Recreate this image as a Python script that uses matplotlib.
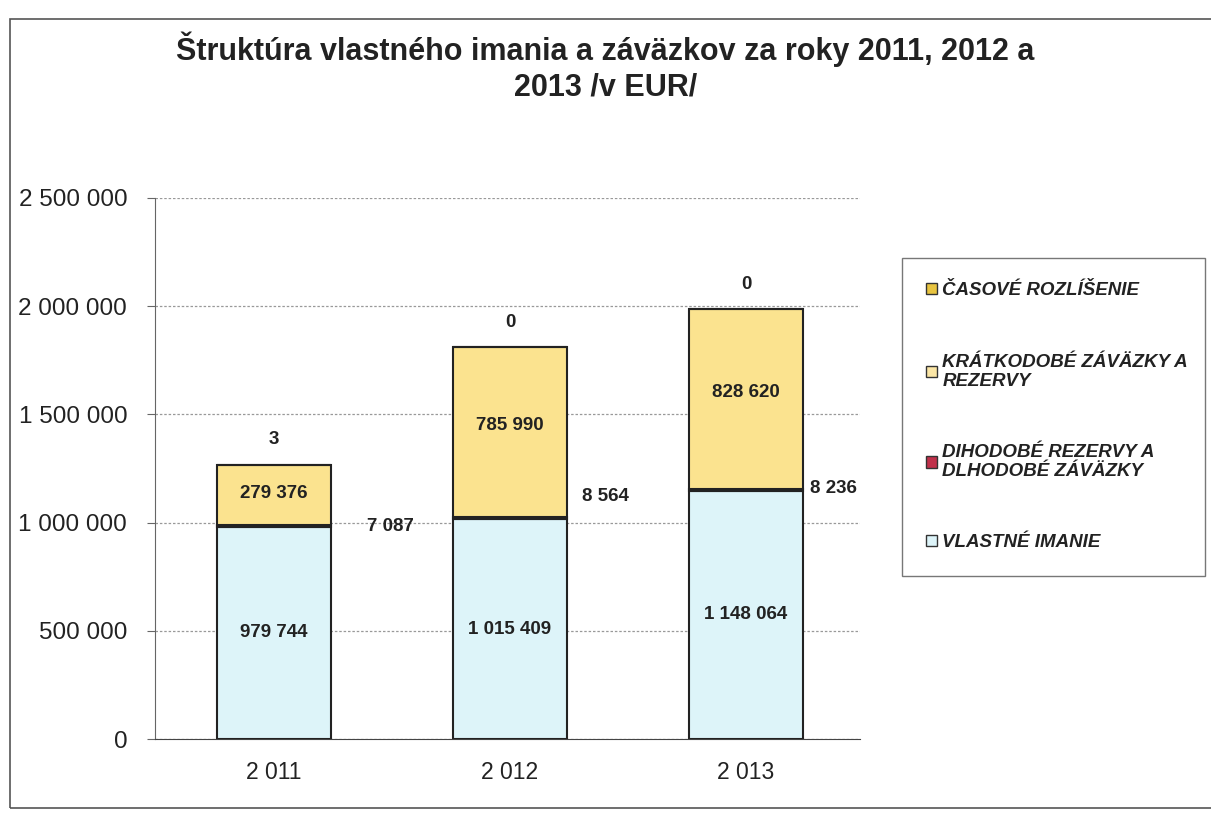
import matplotlib
matplotlib.use("Agg")
import matplotlib.pyplot as plt
from matplotlib.patches import Rectangle, Patch
import numpy as np

plt.rcParams['font.family'] = ['Liberation Sans', 'DejaVu Sans']

years = ["2 011", "2 012", "2 013"]
vlastne = [979744, 1015409, 1148064]
dlhodobe = [7087, 8564, 8236]
kratkodobe = [279376, 785990, 828620]
casove = [3, 0, 0]

series_names = ["VLASTNÉ IMANIE", "DIHODOBÉ REZERVY A\nDLHODOBÉ ZÁVÄZKY",
                "KRÁTKODOBÉ ZÁVÄZKY A\nREZERVY", "ČASOVÉ ROZLÍŠENIE"]
yticks = [0, 500000, 1000000, 1500000, 2000000, 2500000]
ytick_labels = ["0", "500 000", "1 000 000", "1 500 000", "2 000 000", "2 500 000"]

c_vl = "#DDF4F9"
c_dl = "#C0304A"
c_kr = "#FBE38F"
c_cas = "#E8C440"
c_kr_leg = "#FBE6A6"

fig = plt.figure(figsize=(12.11, 8.16), dpi=100)
fig.patch.set_facecolor("white")

# outer frame
fig.patches.append(Rectangle((10/1211, 8/816), 1.2, (808-19)/816, transform=fig.transFigure,
                             fill=False, edgecolor="#555555", linewidth=1.2))

ax = fig.add_axes([155/1211, (816-739)/816, (860-155)/1211, (739-198)/816])
x = np.arange(len(years))
w = 0.48
ec = "#222222"
lw = 1.5
ax.bar(x, vlastne, w, color=c_vl, edgecolor=ec, linewidth=lw, zorder=3)
bot2 = np.array(vlastne)
ax.bar(x, dlhodobe, w, bottom=bot2, color=c_dl, edgecolor=ec, linewidth=lw, zorder=3)
bot3 = bot2 + np.array(dlhodobe)
ax.bar(x, kratkodobe, w, bottom=bot3, color=c_kr, edgecolor=ec, linewidth=lw, zorder=3)
bot4 = bot3 + np.array(kratkodobe)
ax.bar(x, casove, w, bottom=bot4, color=c_cas, edgecolor=ec, linewidth=lw, zorder=3)

ax.set_xlim(-0.504, 2.483)
ax.set_ylim(0, 2500000)
ax.set_yticks(yticks)
ax.set_yticklabels(ytick_labels, fontsize=17.5, color="#222222")
ax.set_xticks(x)
ax.set_xticklabels(years, fontsize=16.5, color="#222222")
ax.tick_params(axis='x', length=0, pad=16)
ax.tick_params(axis='y', length=6, direction='out', pad=14, color="#666666")
for s in ["top", "right"]:
    ax.spines[s].set_visible(False)
ax.spines["left"].set_color("#666666")
ax.spines["bottom"].set_color("#444444")
ax.yaxis.grid(True, linestyle=(0, (2, 1.5)), color="#999999", linewidth=0.9, zorder=0)
ax.set_axisbelow(True)

lab = dict(fontsize=13.5, fontweight="bold", color="#222222", ha="center", va="center")
for i in range(3):
    ax.annotate(f"{vlastne[i]:,}".replace(",", " "), (x[i], vlastne[i] / 2), **lab)
    ax.annotate(f"{kratkodobe[i]:,}".replace(",", " "), (x[i], bot3[i] + kratkodobe[i] / 2),
                xytext=(0, [1, 5, 5][i]), textcoords="offset points", **lab)
    ax.annotate(f"{casove[i]:,}".replace(",", " "), (x[i], bot4[i] + casove[i]),
                xytext=(0, 18), textcoords="offset points", **lab)
# long-term labels beside bars
dl_off = [(43, 0), (28, 16), (22, 1)]
for i in range(3):
    ax.annotate(f"{dlhodobe[i]:,}".replace(",", " "), (x[i] + w / 2, bot2[i] + dlhodobe[i] / 2),
                xytext=dl_off[i], textcoords="offset points", **lab)

fig.text(0.5, 0.962, "Štruktúra vlastného imania a záväzkov za roky 2011, 2012 a\n2013 /v EUR/",
         ha="center", va="top", fontsize=22, fontweight="bold", color="#222222", linespacing=1.25)

handles = [Patch(facecolor=c_cas, edgecolor="#333333"),
           Patch(facecolor=c_kr_leg, edgecolor="#333333"),
           Patch(facecolor=c_dl, edgecolor="#333333"),
           Patch(facecolor=c_vl, edgecolor="#333333")]
labels = [series_names[3], series_names[2], series_names[1], series_names[0]]
leg = fig.legend(handles, labels, loc="upper left", mode="expand",
                 bbox_to_anchor=(902/1211, 1 - 258/816, (1205-902)/1211, 0.0),
                 bbox_transform=fig.transFigure,
                 frameon=True, fancybox=False, edgecolor="#555555",
                 prop=dict(family="Liberation Sans", style="italic", weight="bold", size=13.5),
                 handlelength=0.55, handleheight=0.55, handletextpad=0.3,
                 labelspacing=2.9, borderpad=1.3, borderaxespad=0)
for t in leg.get_texts():
    t.set_color("#222222")
    t.set_linespacing(1.15)
leg.get_frame().set_linewidth(1.0)

fig.savefig("out.png", dpi=100, facecolor="white")
